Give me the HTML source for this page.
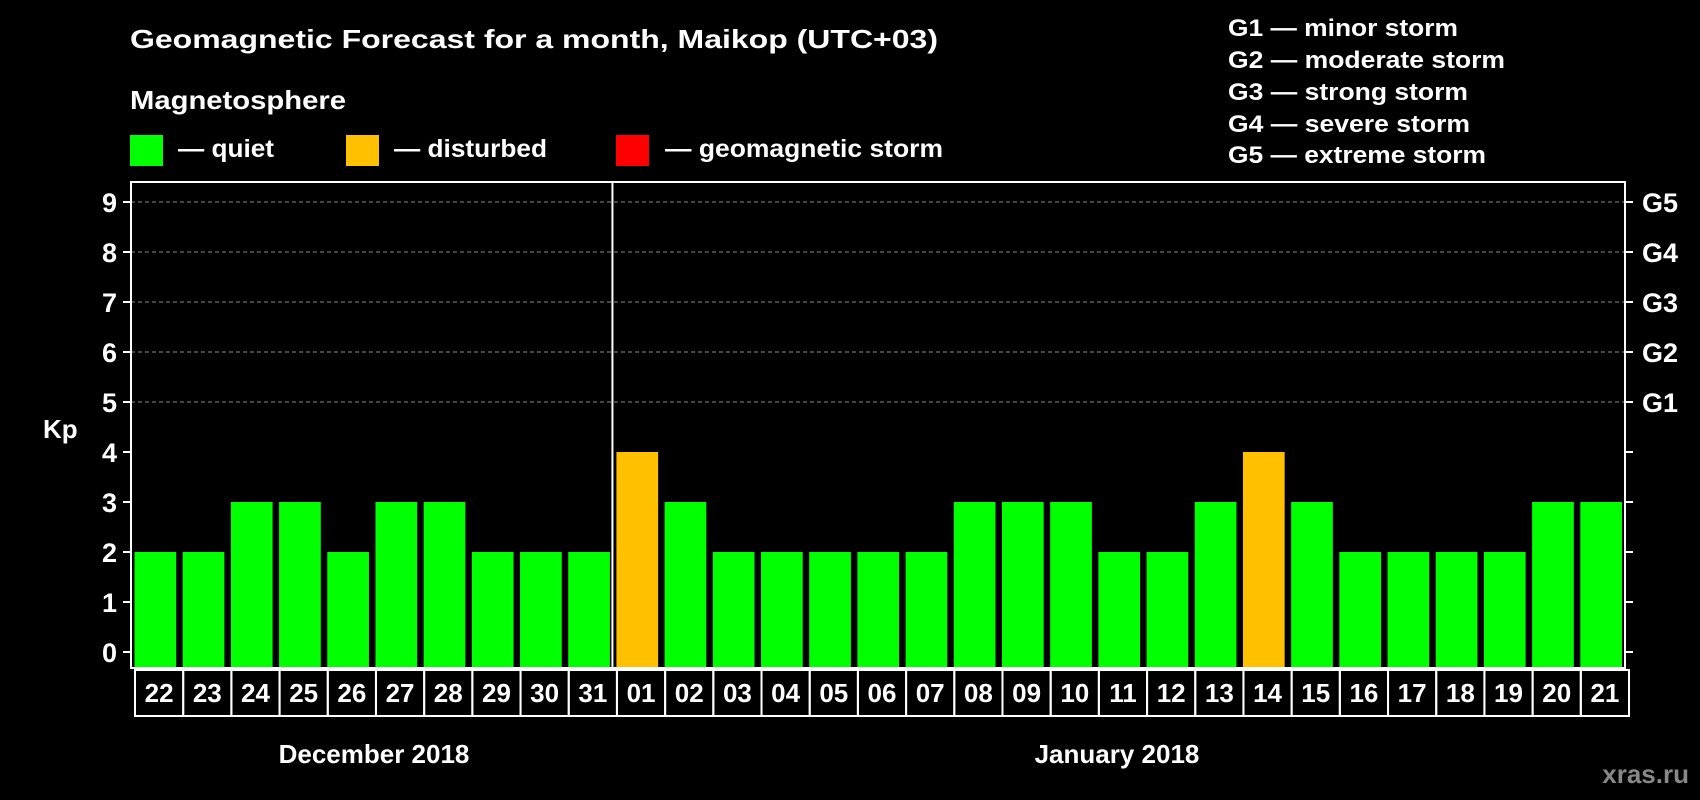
<!DOCTYPE html>
<html><head><meta charset="utf-8"><style>
html,body{margin:0;padding:0;background:#000;width:1700px;height:800px;overflow:hidden}
svg{display:block;font-family:"Liberation Sans",Arial,sans-serif;font-weight:bold}
</style></head><body>
<svg id="chart" width="1700" height="800" viewBox="0 0 1700 800">
<text x="130" y="48" fill="#fff" font-size="26" textLength="808" lengthAdjust="spacingAndGlyphs">Geomagnetic Forecast for a month, Maikop (UTC+03)</text>
<text x="130" y="109" fill="#fff" font-size="26" textLength="216" lengthAdjust="spacingAndGlyphs">Magnetosphere</text>
<g>
<rect x="130" y="135" width="33" height="31" fill="#00ff00"/>
<text x="178" y="157" fill="#fff" font-size="25" textLength="96" lengthAdjust="spacingAndGlyphs">— quiet</text></g>
<g>
<rect x="346" y="135" width="33" height="31" fill="#ffc000"/>
<text x="394" y="157" fill="#fff" font-size="25" textLength="153" lengthAdjust="spacingAndGlyphs">— disturbed</text></g>
<g>
<rect x="616" y="135" width="33" height="31" fill="#ff0000"/>
<text x="665" y="157" fill="#fff" font-size="25" textLength="278" lengthAdjust="spacingAndGlyphs">— geomagnetic storm</text></g>
<g fill="#fff" font-size="24">
<text x="1228" y="36" textLength="230" lengthAdjust="spacingAndGlyphs">G1 — minor storm</text>
<text x="1228" y="68" textLength="277" lengthAdjust="spacingAndGlyphs">G2 — moderate storm</text>
<text x="1228" y="100" textLength="240" lengthAdjust="spacingAndGlyphs">G3 — strong storm</text>
<text x="1228" y="132" textLength="242" lengthAdjust="spacingAndGlyphs">G4 — severe storm</text>
<text x="1228" y="163" textLength="258" lengthAdjust="spacingAndGlyphs">G5 — extreme storm</text>
</g>
<text x="43" y="438" fill="#fff" font-size="26">Kp</text>
<g id="grid"></g>
<g id="bars"></g>
<rect x="131" y="182" width="1494" height="486" fill="none" stroke="#fff" stroke-width="2"/>
<g id="axes"></g>
<g id="dates"></g>
<text x="374" y="763" fill="#fff" font-size="26" text-anchor="middle">December 2018</text>
<text x="1117" y="763" fill="#fff" font-size="26" text-anchor="middle">January 2018</text>
<text x="1689" y="783" fill="#888" font-size="26" text-anchor="end">xras.ru</text>
</svg>
<script>
const days = ["22","23","24","25","26","27","28","29","30","31","01","02","03","04","05","06","07","08","09","10","11","12","13","14","15","16","17","18","19","20","21"];
const kpValues = [2,2,3,3,2,3,3,2,2,2,4,3,2,2,2,2,2,3,3,3,2,2,3,4,3,2,2,2,2,3,3];
const yTicks = [0,1,2,3,4,5,6,7,8,9];
const gLabels = ["G1","G2","G3","G4","G5"];
const monthSplitIndex = 10;

const NS = "http://www.w3.org/2000/svg";
const X0 = 131, X1 = 1625, Y0 = 652, YPER = 50;
const slot = (X1 - X0) / days.length;
function xPos(i){ return X0 + i * slot; }
function yPos(v){ return Y0 - v * YPER; }
function colorFor(v){ return v >= 5 ? "#ff0000" : (v >= 4 ? "#ffc000" : "#00ff00"); }
function mk(tag, attrs, parent){ const e = document.createElementNS(NS, tag); for (const k in attrs) e.setAttribute(k, attrs[k]); parent.appendChild(e); return e; }

const grid = document.getElementById("grid"), bars = document.getElementById("bars"), axes = document.getElementById("axes"), dates = document.getElementById("dates");

yTicks.forEach(v => {
  const y = yPos(v);
  if (v >= 5) {
    const l = mk("line", {x1: X0, x2: X1, y1: y, y2: y, stroke: "#888", "stroke-width": 1, "stroke-dasharray": "4 3"}, grid);
    
    
  }
  const t1 = mk("line", {x1: X0 - 8, x2: X0, y1: y, y2: y, stroke: "#fff", "stroke-width": 2}, axes);
  
  
  const t2 = mk("line", {x1: X1, x2: X1 + 8, y1: y, y2: y, stroke: "#fff", "stroke-width": 2}, axes);
  
  
  const lab = mk("text", {x: 117, y: y + 10, fill: "#fff", "font-size": 27, "text-anchor": "end"}, axes);
  lab.textContent = String(v);
  
  
  if (v >= 5) {
    const g = mk("text", {x: 1642, y: y + 10, fill: "#fff", "font-size": 27}, axes);
    g.textContent = gLabels[v - 5];
    
    
  }
});

kpValues.forEach((v, i) => {
  const r = mk("rect", {x: xPos(i) + 3.5, y: yPos(v), width: slot - 6.5, height: 667 - yPos(v), fill: colorFor(v)}, bars);
  
  
});

const sep = mk("line", {x1: xPos(monthSplitIndex) - 0.5, x2: xPos(monthSplitIndex) - 0.5, y1: 182, y2: 668, stroke: "#fff", "stroke-width": 2}, axes);



days.forEach((d, i) => {
  const c = mk("rect", {x: xPos(i) + 4, y: 670, width: slot, height: 46, fill: "none", stroke: "#fff", "stroke-width": 2}, dates);
  
  
  const t = mk("text", {x: xPos(i) + 4 + slot / 2, y: 702, fill: "#fff", "font-size": 26, "text-anchor": "middle"}, dates);
  t.textContent = d;
  
  
});
</script>
</body></html>
